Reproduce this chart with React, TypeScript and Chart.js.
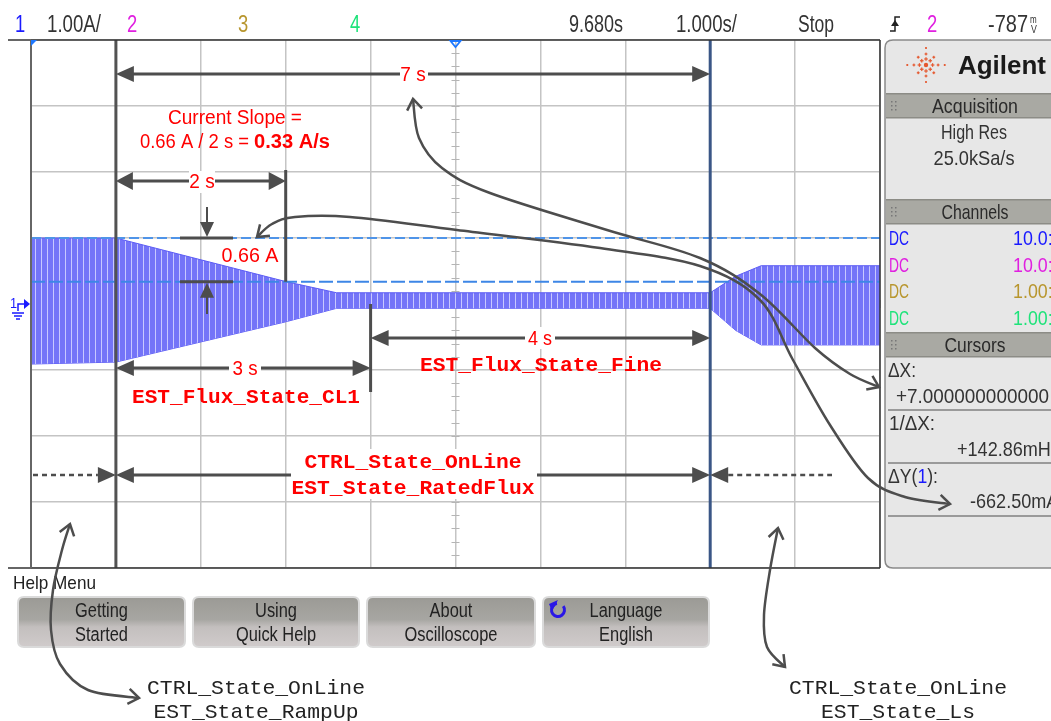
import React, { useEffect, useRef } from "react";
import { Chart, registerables } from "chart.js";
Chart.register(...registerables);

// ---------------- data ----------------
// time in seconds from the left edge of the screen (1.000 s/div), current in A (1.00 A/div)
const timeS = [0, 1.0, 3.0, 3.6, 8.0, 8.3, 8.6, 10];
const upperA = [1.0, 1.0, 0.34, 0.17, 0.17, 0.42, 0.58, 0.58];
const lowerA = [-0.91, -0.88, -0.27, -0.065, -0.065, -0.4, -0.62, -0.62];
const cursorX = [1.0, 8.0]; // s  (ΔX = 7 s)
const cursorY = [1.0, 0.3375]; // A (ΔY = -662.5 mA)
const timeRange = [0, 10];
const ampRange = [-4, 4];
const channelScales = ["10.0:", "10.0:", "1.00:", "1.00:"];
const channelColors = ["#1a1aff", "#e020e0", "#b8962e", "#1ee37a"];
const buttonLabels = [
  ["Getting", "Started"],
  ["Using", "Quick Help"],
  ["About", "Oscilloscope"],
  ["Language", "English"],
];

const SANS = "'Liberation Sans', Arial, sans-serif";
const MONO = "'Liberation Mono', 'Courier New', monospace";
const RED = "#ff0000";
const DIM = "#4d4d4d";
const INK = "#333333";

function txt(ctx: any, s: string, x: number, y: number, size: number, color: string, o: any = {}) {
  ctx.save();
  ctx.font = `${o.bold ? "bold " : ""}${size}px ${o.family || SANS}`;
  ctx.fillStyle = color;
  ctx.textBaseline = "alphabetic";
  ctx.textAlign = "left";
  const mw = ctx.measureText(s).width;
  const sq = o.w ? o.w / mw : o.sq ?? 1;
  const w = mw * sq;
  let left = x;
  if (o.align === "center") left = x - w / 2;
  else if (o.align === "right") left = x - w;
  ctx.translate(left, y);
  ctx.scale(sq, 1);
  ctx.fillText(s, 0, 0);
  ctx.restore();
  return w;
}

function runs(ctx: any, parts: any[], x: number, y: number, size: number, sq: number, family = SANS) {
  let cx = x;
  for (const p of parts) {
    cx += txt(ctx, p[0], cx, y, size, p[1], { sq, bold: p[2], family });
  }
  return cx - x;
}

function seg(ctx: any, x1: number, y1: number, x2: number, y2: number, w: number, color: string, dash: number[] = []) {
  ctx.save();
  ctx.strokeStyle = color;
  ctx.lineWidth = w;
  ctx.setLineDash(dash);
  ctx.beginPath();
  ctx.moveTo(x1, y1);
  ctx.lineTo(x2, y2);
  ctx.stroke();
  ctx.restore();
}

function head(ctx: any, tx: number, ty: number, ang: number, len = 18, half = 8, color = DIM) {
  ctx.save();
  ctx.translate(tx, ty);
  ctx.rotate(ang);
  ctx.fillStyle = color;
  ctx.beginPath();
  ctx.moveTo(0, 0);
  ctx.lineTo(-len, -half);
  ctx.lineTo(-len, half);
  ctx.closePath();
  ctx.fill();
  ctx.restore();
}

function dimH(ctx: any, xa: number, xb: number, y: number, len = 18, half = 8) {
  seg(ctx, xa + len - 2, y, xb - len + 2, y, 3, DIM);
  head(ctx, xa, y, Math.PI, len, half);
  head(ctx, xb, y, 0, len, half);
}

function openHead(ctx: any, tx: number, ty: number, ang: number, len = 13, spread = 0.62, color = DIM) {
  ctx.save();
  ctx.strokeStyle = color;
  ctx.lineWidth = 2.5;
  ctx.lineJoin = "miter";
  ctx.beginPath();
  ctx.moveTo(tx + len * Math.cos(ang + Math.PI - spread), ty + len * Math.sin(ang + Math.PI - spread));
  ctx.lineTo(tx, ty);
  ctx.lineTo(tx + len * Math.cos(ang + Math.PI + spread), ty + len * Math.sin(ang + Math.PI + spread));
  ctx.stroke();
  ctx.restore();
}

function curve(ctx: any, pts: number[][], startHead = true, endHead = true) {
  ctx.save();
  ctx.strokeStyle = DIM;
  ctx.lineWidth = 2.5;
  ctx.beginPath();
  ctx.moveTo(pts[0][0], pts[0][1]);
  for (let i = 0; i < pts.length - 1; i++) {
    const p0 = pts[Math.max(0, i - 1)], p1 = pts[i], p2 = pts[i + 1], p3 = pts[Math.min(pts.length - 1, i + 2)];
    ctx.bezierCurveTo(
      p1[0] + (p2[0] - p0[0]) / 6, p1[1] + (p2[1] - p0[1]) / 6,
      p2[0] - (p3[0] - p1[0]) / 6, p2[1] - (p3[1] - p1[1]) / 6,
      p2[0], p2[1]
    );
  }
  ctx.stroke();
  ctx.restore();
  const n = pts.length;
  if (startHead) openHead(ctx, pts[0][0], pts[0][1], Math.atan2(pts[0][1] - pts[1][1], pts[0][0] - pts[1][0]));
  if (endHead) openHead(ctx, pts[n - 1][0], pts[n - 1][1], Math.atan2(pts[n - 1][1] - pts[n - 2][1], pts[n - 1][0] - pts[n - 2][0]));
}

function whiteBox(ctx: any, x: number, y: number, w: number, h: number) {
  ctx.save();
  ctx.fillStyle = "#ffffff";
  ctx.fillRect(x, y, w, h);
  ctx.restore();
}

function rrect(ctx: any, x: number, y: number, w: number, h: number, r: number) {
  ctx.beginPath();
  ctx.moveTo(x + r, y);
  ctx.lineTo(x + w - r, y);
  ctx.quadraticCurveTo(x + w, y, x + w, y + r);
  ctx.lineTo(x + w, y + h - r);
  ctx.quadraticCurveTo(x + w, y + h, x + w - r, y + h);
  ctx.lineTo(x + r, y + h);
  ctx.quadraticCurveTo(x, y + h, x, y + h - r);
  ctx.lineTo(x, y + r);
  ctx.quadraticCurveTo(x, y, x + r, y);
  ctx.closePath();
}

function grip(ctx: any, x: number, y: number) {
  ctx.save();
  ctx.fillStyle = "#777";
  for (let i = 0; i < 2; i++) for (let j = 0; j < 3; j++) ctx.fillRect(x + i * 4, y + j * 4, 1.5, 1.5);
  ctx.restore();
}

function drawPanel(ctx: any) {
  ctx.save();
  rrect(ctx, 885, 40, 180, 528, 8);
  ctx.fillStyle = "#e7e7e7";
  ctx.fill();
  ctx.strokeStyle = "#8a8a8a";
  ctx.lineWidth = 1.5;
  ctx.stroke();
  ctx.restore();

  // Agilent logo
  ctx.save();
  ctx.fillStyle = "#e5582f";
  const cx = 926, cy = 65;
  ctx.beginPath();
  ctx.arc(cx, cy, 2.2, 0, Math.PI * 2);
  ctx.fill();
  for (let k = 0; k < 8; k++) {
    const a = (k * Math.PI) / 4;
    const rr = k % 2 === 0 ? [6, 11, 17] : [6, 11];
    rr.forEach((r, idx) => {
      const px = cx + r * Math.cos(a) * (k % 4 === 0 ? 1.1 : 1), py = cy + r * Math.sin(a);
      const s = idx === 0 ? 1.8 : idx === 1 ? 1.4 : 1.0;
      ctx.fillRect(px - s, py - 0.6, 2 * s, 1.2);
      ctx.fillRect(px - 0.6, py - s, 1.2, 2 * s);
    });
  }
  ctx.restore();
  txt(ctx, "Agilent", 958, 74, 25, "#1a1a1a", { bold: true, w: 88 });

  // section bars
  const bar = (y0: number, label: string, w: number) => {
    ctx.save();
    ctx.fillStyle = "#a9a9a3";
    ctx.fillRect(886, y0, 165, 25);
    ctx.fillStyle = "#8c8c86";
    ctx.fillRect(886, y0, 165, 1.5);
    ctx.fillRect(886, y0 + 24, 165, 1.5);
    ctx.restore();
    grip(ctx, 891, y0 + 8);
    txt(ctx, label, 975, y0 + 20, 21, "#2a2a2a", { align: "center", w });
  };
  bar(93, "Acquisition", 86);
  txt(ctx, "High Res", 974, 139, 21, INK, { align: "center", w: 66 });
  txt(ctx, "25.0kSa/s", 974, 165, 21, INK, { align: "center", w: 81 });
  bar(199, "Channels", 67);
  const rowsY = [245, 272, 298, 325];
  rowsY.forEach((y, i) => {
    txt(ctx, "DC", 889, y, 21, channelColors[i], { w: 20 });
    txt(ctx, channelScales[i], 1013, y, 21, channelColors[i], { sq: 0.85 });
  });
  bar(332, "Cursors", 61);
  const SQ = 0.84;
  txt(ctx, "ΔX:", 888, 377, 21, INK, { w: 28 });
  txt(ctx, "+7.000000000000", 896, 403, 21, INK, { sq: 0.9 });
  seg(ctx, 888, 410, 1051, 410, 2, "#9a9a9a");
  txt(ctx, "1/ΔX:", 889, 430, 21, INK, { w: 46 });
  txt(ctx, "+142.86mHz", 957, 456, 21, INK, { sq: 0.86 });
  seg(ctx, 888, 463, 1051, 463, 2, "#9a9a9a");
  runs(ctx, [["ΔY(", INK], ["1", "#1a1aff"], ["):", INK]], 888, 483, 21, SQ);
  txt(ctx, "-662.50mA", 970, 508, 21, INK, { sq: 0.86 });
  seg(ctx, 888, 516, 1051, 516, 2, "#9a9a9a");
}

function drawBottom(ctx: any) {
  txt(ctx, "Help Menu", 13, 589, 19, "#222", { w: 83 });
  const bx = [[18, 185], [193, 359], [367, 535], [543, 709]];
  bx.forEach((b, i) => {
    ctx.save();
    rrect(ctx, b[0], 597, b[1] - b[0], 50, 6);
    const g = ctx.createLinearGradient(0, 597, 0, 647);
    g.addColorStop(0, "#9b9a95");
    g.addColorStop(0.45, "#a7a6a2");
    g.addColorStop(0.6, "#c3bfbe");
    g.addColorStop(1, "#d0cbcb");
    ctx.fillStyle = g;
    ctx.fill();
    ctx.strokeStyle = "#dadada";
    ctx.lineWidth = 2;
    ctx.stroke();
    ctx.restore();
    const mid = (b[0] + b[1]) / 2;
    txt(ctx, buttonLabels[i][0], mid, 617, 20, "#222", { align: "center", sq: 0.82 });
    txt(ctx, buttonLabels[i][1], mid, 641, 20, "#222", { align: "center", sq: 0.82 });
  });
  // language icon
  ctx.save();
  ctx.strokeStyle = "#2a17e6";
  ctx.lineWidth = 3;
  ctx.beginPath();
  ctx.arc(558, 610, 6.5, -0.2 * Math.PI, 1.45 * Math.PI);
  ctx.stroke();
  ctx.fillStyle = "#2a17e6";
  ctx.beginPath();
  ctx.moveTo(549, 604);
  ctx.lineTo(558, 600);
  ctx.lineTo(552, 611);
  ctx.closePath();
  ctx.fill();
  ctx.restore();

  // bottom captions
  txt(ctx, "CTRL_State_OnLine", 256, 694, 21, "#222", { align: "center", family: MONO, w: 218 });
  txt(ctx, "EST_State_RampUp", 256, 718, 21, "#222", { align: "center", family: MONO, w: 205 });
  txt(ctx, "CTRL_State_OnLine", 898, 694, 21, "#222", { align: "center", family: MONO, w: 218 });
  txt(ctx, "EST_State_Ls", 898, 718, 21, "#222", { align: "center", family: MONO, w: 154 });
}

function drawHeader(ctx: any) {
  const y = 32;
  txt(ctx, "1", 15, y, 23, "#1a1aff", { sq: 0.8 });
  txt(ctx, "1.00A/", 47, y, 23, INK, { w: 54 });
  txt(ctx, "2", 127, y, 23, "#e020e0", { sq: 0.8 });
  txt(ctx, "3", 238, y, 23, "#b8962e", { sq: 0.8 });
  txt(ctx, "4", 350, y, 23, "#1ee37a", { sq: 0.8 });
  txt(ctx, "9.680s", 569, y, 23, INK, { w: 54 });
  txt(ctx, "1.000s/", 676, y, 23, INK, { w: 61 });
  txt(ctx, "Stop", 798, y, 23, INK, { w: 36 });
  // trigger edge symbol
  ctx.save();
  ctx.strokeStyle = "#222";
  ctx.lineWidth = 1.5;
  ctx.beginPath();
  ctx.moveTo(890, 31);
  ctx.lineTo(895, 31);
  ctx.lineTo(895, 17);
  ctx.lineTo(900, 17);
  ctx.stroke();
  ctx.fillStyle = "#222";
  ctx.beginPath();
  ctx.moveTo(895, 20);
  ctx.lineTo(891, 26);
  ctx.lineTo(899, 26);
  ctx.closePath();
  ctx.fill();
  ctx.restore();
  txt(ctx, "2", 927, y, 23, "#e020e0", { sq: 0.8 });
  txt(ctx, "-787", 988, y, 23, INK, { w: 40 });
  txt(ctx, "m", 1030, 23, 10, INK, { sq: 0.8 });
  txt(ctx, "V", 1031, 33, 11, INK, { sq: 0.8 });
}

const scopePlugin = {
  id: "scopeDecor",
  beforeDatasetsDraw(chart: any) {
    const ctx = chart.ctx;
    const xs = chart.scales.x, ys = chart.scales.y;
    const cx = xs.getPixelForValue((timeRange[0] + timeRange[1]) / 2);
    const cy = ys.getPixelForValue(0);
    ctx.save();
    ctx.strokeStyle = "#b5b5b5";
    ctx.lineWidth = 1;
    for (let k = 0; k <= (ampRange[1] - ampRange[0]) * 5; k++) {
      const y = Math.round(ys.getPixelForValue(ampRange[0] + k * 0.2)) + 0.5;
      ctx.beginPath();
      ctx.moveTo(cx - 4, y);
      ctx.lineTo(cx + 4, y);
      ctx.stroke();
    }
    for (let k = 0; k <= (timeRange[1] - timeRange[0]) * 5; k++) {
      const x = Math.round(xs.getPixelForValue(timeRange[0] + k * 0.2)) + 0.5;
      ctx.beginPath();
      ctx.moveTo(x, cy - 4);
      ctx.lineTo(x, cy + 4);
      ctx.stroke();
    }
    ctx.restore();
  },
  afterDraw(chart: any) {
    const ctx = chart.ctx;
    const xs = chart.scales.x, ys = chart.scales.y;
    const X = (v: number) => xs.getPixelForValue(v);
    const Y = (v: number) => ys.getPixelForValue(v);
    const ca = chart.chartArea;

    // frame
    seg(ctx, 8, ca.top, ca.right, ca.top, 1.5, "#333");
    seg(ctx, 8, ca.bottom, ca.right, ca.bottom, 1.5, "#333");
    seg(ctx, ca.right, ca.top, ca.right, ca.bottom, 1.5, "#333");
    seg(ctx, ca.left, ca.top, ca.left, ca.bottom, 2, "#666");

    // top markers
    ctx.save();
    ctx.fillStyle = "#1e78ff";
    ctx.beginPath();
    ctx.moveTo(ca.left, ca.top);
    ctx.lineTo(ca.left + 6, ca.top);
    ctx.lineTo(ca.left, ca.top + 6);
    ctx.closePath();
    ctx.fill();
    const tx = X((timeRange[0] + timeRange[1]) / 2);
    ctx.strokeStyle = "#1e78ff";
    ctx.lineWidth = 1.8;
    ctx.beginPath();
    ctx.moveTo(tx - 5, ca.top + 1);
    ctx.lineTo(tx + 5, ca.top + 1);
    ctx.lineTo(tx, ca.top + 7);
    ctx.closePath();
    ctx.stroke();
    ctx.restore();

    // ground marker for channel 1
    const gy = Y(0);
    ctx.save();
    ctx.fillStyle = "#1a1aff";
    ctx.strokeStyle = "#1a1aff";
    ctx.lineWidth = 1.5;
    txt(ctx, "1", 10, gy + 4, 15, "#1a1aff", { sq: 0.85 });
    ctx.beginPath();
    ctx.moveTo(18, gy + 7);
    ctx.lineTo(18, gy);
    ctx.lineTo(25, gy);
    ctx.stroke();
    ctx.beginPath();
    ctx.moveTo(24, gy - 5);
    ctx.lineTo(30, gy);
    ctx.lineTo(24, gy + 5);
    ctx.closePath();
    ctx.fill();
    ctx.beginPath();
    ctx.moveTo(12, gy + 9);
    ctx.lineTo(24, gy + 9);
    ctx.moveTo(14, gy + 12);
    ctx.lineTo(22, gy + 12);
    ctx.moveTo(16, gy + 15);
    ctx.lineTo(20, gy + 15);
    ctx.stroke();
    ctx.restore();

    drawHeader(ctx);
    drawPanel(ctx);
    drawBottom(ctx);

    // ---------- annotations ----------
    const x1 = X(cursorX[0]);
    const x2 = X(cursorX[1]);
    const x2s = X(cursorX[0] + 2);
    const x3s = X(cursorX[0] + 3);
    const y1 = Y(cursorY[0]);
    const y2 = Y(cursorY[1]);

    // 7 s
    dimH(ctx, x1, x2, 74, 18, 8);
    whiteBox(ctx, 400, 63, 28, 22);
    txt(ctx, "7 s", 413, 81, 20, RED, { align: "center", sq: 0.95 });

    // current slope text
    txt(ctx, "Current Slope =", 235, 124, 20, RED, { align: "center", w: 134 });
    const wA = runs(ctx, [["0.66 A / 2 s = ", RED, false]], 140, 148, 20, 0.92);
    txt(ctx, "0.33 A/s", 140 + wA, 148, 20, RED, { bold: true, w: 330 - 140 - wA });

    // 2 s
    dimH(ctx, x1, x2s, 181, 17, 9);
    seg(ctx, x2s, 170, x2s, y2, 3, DIM);
    whiteBox(ctx, 189, 171, 26, 22);
    txt(ctx, "2 s", 202, 188, 20, RED, { align: "center", sq: 0.95 });

    // 0.66 A
    seg(ctx, 180, y1, 233, y1, 3, DIM);
    seg(ctx, 180, y2, 233, y2, 3, DIM);
    seg(ctx, 207, 207, 207, y1 - 14, 2, DIM);
    head(ctx, 207, y1 - 1, Math.PI / 2, 15, 7);
    seg(ctx, 207, 314, 207, y2 + 14, 2, DIM);
    head(ctx, 207, y2 + 1, -Math.PI / 2, 15, 7);
    txt(ctx, "0.66 A", 250, 262, 20, RED, { align: "center", w: 57 });

    // 3 s and 4 s
    seg(ctx, x3s, Y(0), x3s, 392, 3, DIM);
    dimH(ctx, x1, x3s, 368, 18, 8);
    whiteBox(ctx, 229, 357, 32, 22);
    txt(ctx, "3 s", 245, 375, 20, RED, { align: "center", w: 25 });
    dimH(ctx, x3s, x2, 338, 18, 8);
    whiteBox(ctx, 525, 327, 30, 22);
    txt(ctx, "4 s", 540, 345, 20, RED, { align: "center", w: 24 });
    txt(ctx, "EST_Flux_State_CL1", 246, 403, 21, RED, { align: "center", bold: true, family: MONO, w: 228 });
    txt(ctx, "EST_Flux_State_Fine", 541, 371, 21, RED, { align: "center", bold: true, family: MONO, w: 242 });

    // state arrows
    const ya = 475;
    dimH(ctx, x1, x2, ya, 18, 8);
    seg(ctx, 33, ya, x1 - 18, ya, 2.5, DIM, [5, 4]);
    head(ctx, x1, ya, 0, 18, 8);
    seg(ctx, x2 + 18, ya, 832, ya, 2.5, DIM, [5, 4]);
    head(ctx, x2, ya, Math.PI, 18, 8);
    whiteBox(ctx, 291, 449, 246, 50);
    txt(ctx, "CTRL_State_OnLine", 413, 468, 21, RED, { align: "center", bold: true, family: MONO, w: 217 });
    txt(ctx, "EST_State_RatedFlux", 413, 494, 21, RED, { align: "center", bold: true, family: MONO, w: 243 });

    // curved call-outs
    curve(ctx, [[413, 99], [419, 138], [442, 168], [490, 193], [607, 230], [700, 258], [760, 294], [815, 348], [850, 374], [879, 387]]);
    curve(ctx, [[257, 237], [272, 224], [295, 217], [350, 217], [457, 230], [600, 248], [700, 266], [760, 300], [793, 360], [830, 425], [868, 478], [905, 497], [950, 504]]);
    curve(ctx, [[70, 524], [62, 550], [53, 590], [51, 630], [60, 664], [88, 690], [139, 698]]);
    curve(ctx, [[778, 528], [770, 570], [764, 615], [767, 647], [785, 667]]);
  },
};

export default function App() {
  const ref = useRef<HTMLCanvasElement>(null);
  useEffect(() => {
    const canvas = ref.current as HTMLCanvasElement;
    const c2d = canvas.getContext("2d") as CanvasRenderingContext2D;
    const off = document.createElement("canvas");
    off.width = 6;
    off.height = 4;
    const o = off.getContext("2d") as CanvasRenderingContext2D;
    o.fillStyle = "rgb(116,116,248)";
    o.fillRect(0, 0, 6, 4);
    o.fillStyle = "rgb(200,200,255)";
    o.fillRect(5, 0, 1, 4);
    const pattern = c2d.createPattern(off, "repeat");

    const pts = (ys: number[]) => timeS.map((t, i) => ({ x: t, y: ys[i] }));
    const hLine = (v: number) => [{ x: timeRange[0], y: v }, { x: timeRange[1], y: v }];
    const vLine = (v: number) => [{ x: v, y: ampRange[0] }, { x: v, y: ampRange[1] }];

    const chart = new Chart(canvas, {
      type: "line",
      data: {
        datasets: [
          { label: "Ch1 upper", data: pts(upperA), borderColor: "rgb(92,92,245)", borderWidth: 1, pointRadius: 0, fill: "+1", backgroundColor: pattern as any, order: 10 },
          { label: "Ch1 lower", data: pts(lowerA), borderColor: "rgb(92,92,245)", borderWidth: 1, pointRadius: 0, fill: false, order: 11 },
          { label: "Y1", data: hLine(cursorY[0]), borderColor: "#4f94e8", borderWidth: 2, borderDash: [10, 4], pointRadius: 0, fill: false, order: 3 },
          { label: "Y2", data: hLine(cursorY[1]), borderColor: "#3d86e6", borderWidth: 2, borderDash: [14, 4], pointRadius: 0, fill: false, order: 3 },
          { label: "X1", data: vLine(cursorX[0]), borderColor: "#525252", borderWidth: 3, pointRadius: 0, fill: false, order: 2 },
          { label: "X2", data: vLine(cursorX[1]), borderColor: "#3a5686", borderWidth: 3, pointRadius: 0, fill: false, order: 2 },
        ],
      },
      options: {
        responsive: false,
        animation: false,
        devicePixelRatio: 1,
        events: [],
        layout: { padding: { left: 31, top: 40, right: 171, bottom: 153 } },
        plugins: { legend: { display: false }, tooltip: { enabled: false }, title: { display: false } },
        scales: {
          x: {
            type: "linear",
            min: timeRange[0],
            max: timeRange[1],
            ticks: { display: false, stepSize: 1 },
            grid: { color: "#c4c4c4", lineWidth: 1.5, drawTicks: false },
            border: { display: false },
          },
          y: {
            type: "linear",
            min: ampRange[0],
            max: ampRange[1],
            ticks: { display: false, stepSize: 1 },
            grid: { color: "#c4c4c4", lineWidth: 1.5, drawTicks: false },
            border: { display: false },
          },
        },
      },
      plugins: [scopePlugin],
    } as any);
    return () => chart.destroy();
  }, []);
  return (
    <div style={{ position: "absolute", left: 0, top: 0, width: 1051, height: 721, background: "#ffffff", overflow: "hidden" }}>
      <canvas ref={ref} width={1051} height={721} style={{ display: "block" }} />
    </div>
  );
}
